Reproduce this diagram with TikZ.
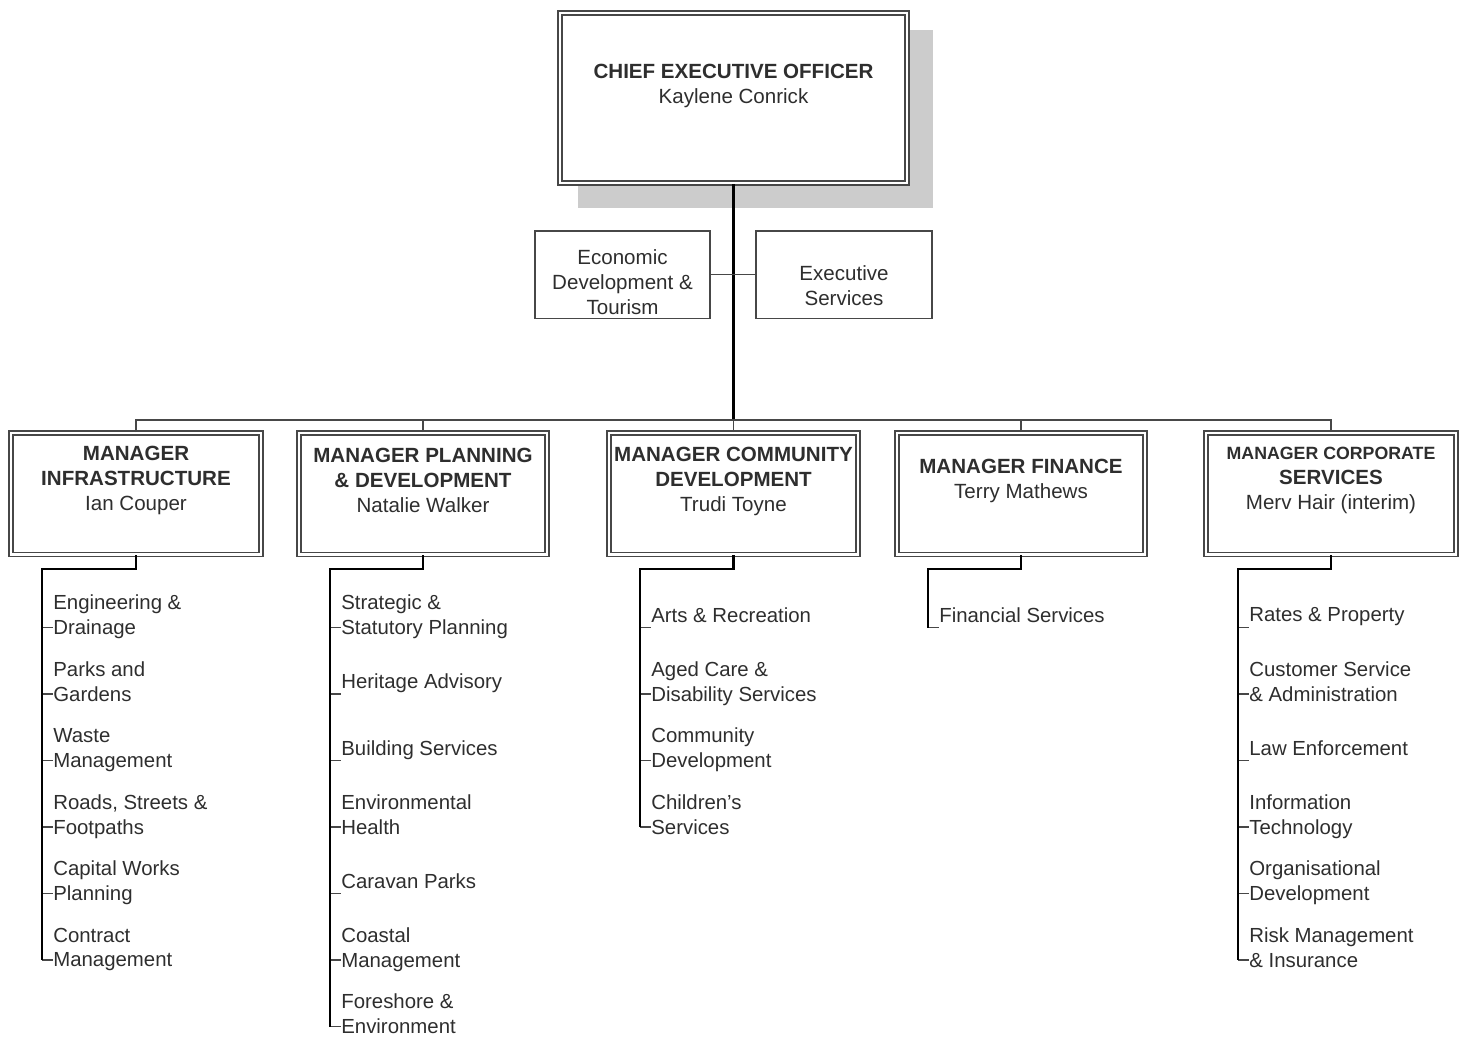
\documentclass[tikz,border=0pt]{standalone}
\usepackage{fontspec}
\setmainfont{Liberation Sans}
\usetikzlibrary{calc}
\definecolor{boxline}{HTML}{474747}
\definecolor{txt}{HTML}{2E2E2E}
\definecolor{shadowgray}{HTML}{CCCCCC}
% list of duties under one manager: name, spine x, items
\def\dutylist(#1:#2)#3{%
  \foreach \duty [count=\i from 0] in {#3} {
    \node[item] (#1-\i) at (#2+11, 617+66.5*\i) {\duty\vphantom{g}};
    \coordinate (#1-k\i) at (#2, 627.5+66.5*\i);
    \draw[tick] (#1-k\i) -- (#1-k\i -| #1-\i.west);
  }}

\begin{document}
\begin{tikzpicture}[x=0.02cm, y=-0.02cm,
    dbox/.style={draw=boxline, double=white, double distance=0.05cm, line width=0.03cm, fill=white, inner sep=0pt},
    sbox/.style={draw=boxline, line width=0.03cm, fill=white, inner sep=0pt},
    head/.style={align=center, text=txt, inner sep=0pt, font=\fontsize{11.7}{14.2}\selectfont},
    item/.style={anchor=west, align=left, text=txt, inner sep=0pt, font=\fontsize{11.6}{14.2}\selectfont},
    bus/.style={draw=boxline, line width=0.03cm},
    spine/.style={draw=black, line width=0.055cm},
    tick/.style={draw=boxline, line width=0.03cm}]
    \useasboundingbox (0,0) rectangle (1465,1036);
    %%%%% START %%%%%
    % chief executive
    \fill[shadowgray] (578,30) rectangle (933,208);
    \node[dbox, minimum width=6.95cm, minimum height=3.41cm] (ceo) at (733.5,98) {};
    \node[head] (ceo-t) at (733.5,85.5) {\textbf{CHIEF EXECUTIVE OFFICER}\\Kaylene Conrick};
    
    % staff units
    \node[sbox, minimum width=3.51cm, minimum height=1.75cm] (eco) at (622.5,274.5) {};
    \node[head] (eco-t) at (622.5,282) {Economic\\Development \&\\Tourism};
    \node[sbox, minimum width=3.53cm, minimum height=1.75cm] (exe) at (844,274.5) {};
    \node[head] (exe-t) at (844,285.5) {Executive\\Services};
    
    % managers
    \node[dbox, minimum width=5.01cm, minimum height=2.43cm] (inf) at (136,493.5) {};
    \node[dbox, minimum width=4.97cm, minimum height=2.43cm] (pla) at (423,493.5) {};
    \node[dbox, minimum width=4.99cm, minimum height=2.43cm] (com) at (733.5,493.5) {};
    \node[dbox, minimum width=4.97cm, minimum height=2.43cm] (fin) at (1021,493.5) {};
    \node[dbox, minimum width=5.01cm, minimum height=2.43cm] (cor) at (1331,493.5) {};
    \node[head] (inf-t) at (136,480.5) {\textbf{MANAGER}\\\textbf{INFRASTRUCTURE}\\Ian Couper};
    \node[head] (pla-t) at (423,480) {\textbf{MANAGER PLANNING}\\\textbf{\& DEVELOPMENT}\\Natalie Walker};
    \node[head] (com-t) at (733.5,481) {\textbf{MANAGER COMMUNITY}\\\textbf{DEVELOPMENT}\\Trudi Toyne};
    \node[head] (fin-t) at (1021,481) {\textbf{MANAGER FINANCE}\\Terry Mathews};
    \node[head] (cor-t) at (1331,480.5) {{\fontsize{10.1}{12}\selectfont\textbf{MANAGER CORPORATE}}\\\textbf{SERVICES}\\Merv Hair (interim)};
    
    % lines from the top
    \coordinate (bus) at (733.5,420);
    \draw[line width=0.06cm] (ceo.south) -- (bus);
    \draw[bus] (eco.east) -- (exe.west);
    \draw[bus] (inf.north) |- (bus);
    \draw[bus] (pla.north) |- (bus);
    \draw[bus] (com.north) -- (bus);
    \draw[bus] (fin.north) |- (bus);
    \draw[bus] (cor.north) |- (bus);
    
    % duties
    \dutylist(inf:42){{Engineering \&\\Drainage}, {Parks and\\Gardens}, {Waste\\Management},
      {Roads, Streets \&\\Footpaths}, {Capital Works\\Planning}, {Contract\\Management}}
    \dutylist(pla:330){{Strategic \&\\Statutory Planning}, {Heritage Advisory}, {Building Services},
      {Environmental\\Health}, {Caravan Parks}, {Coastal\\Management}, {Foreshore \&\\Environment}}
    \dutylist(com:640){{Arts \& Recreation}, {Aged Care \&\\Disability Services},
      {Community\\Development}, {Children's\\Services}}
    \dutylist(fin:928){{Financial Services}}
    \dutylist(cor:1238){{Rates \& Property}, {Customer Service\\\& Administration}, {Law Enforcement},
      {Information\\Technology}, {Organisational\\Development}, {Risk Management\\\& Insurance}}
    
    \draw[spine] (inf.south) -- ++(0,14) -| (inf-k5);
    \draw[spine] (pla.south) -- ++(0,14) -| (pla-k6);
    \draw[spine] (com.south) -- ++(0,14) -| (com-k3);
    \draw[spine] (fin.south) -- ++(0,14) -| (fin-k0);
    \draw[spine] (cor.south) -- ++(0,14) -| (cor-k5);
    %%%%% END %%%%%
\end{tikzpicture}
\end{document}
